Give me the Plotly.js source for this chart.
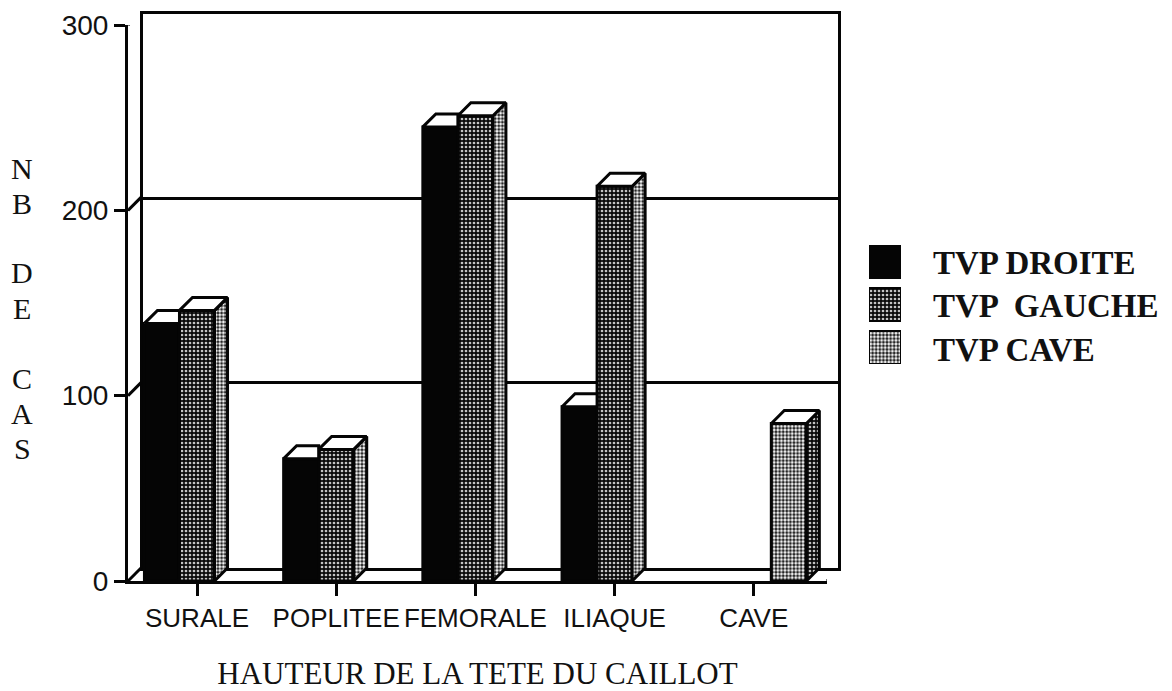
<!DOCTYPE html>
<html><head><meta charset="utf-8">
<script src="https://cdn.plot.ly/plotly-3.0.1.min.js"></script>
<style>html,body{margin:0;padding:0;background:#fff}</style></head>
<body><div id="chart" style="width:1172px;height:691px"></div>
<script>
const categories = ["SURALE","POPLITEE","FEMORALE","ILIAQUE","CAVE"];
const seriesNames = ["TVP DROITE","TVP  GAUCHE","TVP CAVE"];
const droite = [139, 66, 245, 94, null];
const gauche = [146, 71, 251, 213, null];
const cave = [null, null, null, null, 85];
const yTicks = [0,100,200,300];
const yLetters = ["N","B","D","E","C","A","S"];
const yLetterPx = [168,203,272,309,378,413,448];

const W=1172,H=691;
const fx0=128, fy0=581, fy1=25, catPx=139.2, firstTick=197;
const x0=(fx0-firstTick)/catPx, x1=(827-firstTick)/catPx;
const fx1=827;
const bw=0.2517, dx=13/catPx, dy=13/((fy0-fy1)/300);
const black='#050505', lw=3;
const dark={shape:'.',size:4,solidity:0.36,fgcolor:'#c4c4c4',bgcolor:'#0a0a0a'};
const light={shape:'.',size:3.6,solidity:0.55,fgcolor:'#eeeeee',bgcolor:'#111111'};
const side={shape:'.',size:3.6,solidity:0.6,fgcolor:'#f2f2f2',bgcolor:'#111111'};

function bar(name,vals,color,pat){
  return {type:'bar',name,x:categories.map((_,i)=>i),y:vals,xaxis:'x2',yaxis:'y2',showlegend:false,
    hoverinfo:'skip',marker:{color,pattern:pat||{shape:''},line:{color:black,width:lw}}};
}
function tops(vals,s,clip){
  const X=[],Y=[];
  vals.forEach((v,i)=>{ if(v==null) return;
    const l=i+(s-1)*bw-bw/2, r=l+bw;
    const rr=clip?r:r+dx;
    X.push(l,l+dx,rr,r,l,null); Y.push(v,v+dy,v+dy,v,v,null);
  });
  return {type:'scatter',mode:'lines',x:X,y:Y,xaxis:'x2',yaxis:'y2',fill:'toself',fillcolor:'#ffffff',
    line:{color:black,width:lw},showlegend:false,hoverinfo:'skip'};
}
function sides(vals,s,pat){
  const X=[],Y=[];
  vals.forEach((v,i)=>{ if(v==null) return;
    const r=i+(s-1)*bw+bw/2;
    X.push(r,r+dx,r+dx,r,r,null); Y.push(0,dy,v+dy,v,0,null);
  });
  return {type:'scatter',mode:'lines',x:X,y:Y,xaxis:'x2',yaxis:'y2',fill:'toself',fillcolor:'#111',
    fillpattern:pat,line:{color:black,width:lw},showlegend:false,hoverinfo:'skip'};
}
// diagonals joining the front axis to the back wall
const diagX=[],diagY=[];
yTicks.forEach(v=>{diagX.push(x0,x0+dx,null);diagY.push(v,v+dy,null);});
diagX.push(x1,x1+dx,null);diagY.push(0,dy,null);
const diag={type:'scatter',mode:'lines',x:diagX,y:diagY,xaxis:'x2',yaxis:'y2',line:{color:black,width:lw},
  cliponaxis:false,showlegend:false,hoverinfo:'skip'};
// legend swatches: three bars on a small hidden subplot
const legendPos=[2,1,0];
const swatch=(i,color,pat)=>({type:'bar',x:[0],y:[0.767],base:[legendPos[i]],width:[1],offset:[-0.5],xaxis:'x3',yaxis:'y3',
  marker:{color,pattern:pat||{shape:''},line:{color:black,width:2}},showlegend:false,hoverinfo:'skip'});
// empty trace keeps the back wall axes alive
const wall={type:'scatter',mode:'none',x:[0],y:[0],xaxis:'x',yaxis:'y',showlegend:false,hoverinfo:'skip'};

const traces=[wall,diag,
  bar(seriesNames[0],droite,black),bar(seriesNames[1],gauche,'#0a0a0a',dark),bar(seriesNames[2],cave,'#111',light),
  tops(droite,0,true),sides(gauche,1,side),tops(gauche,1,false),sides(cave,2,dark),tops(cave,2,false),
  swatch(0,black),swatch(1,'#0a0a0a',dark),swatch(2,'#111',light)];

const lineBase={showline:true,linecolor:black,linewidth:lw,zeroline:false};
const serif='"Liberation Serif","Times New Roman",serif', sans='"Liberation Sans",Arial,sans-serif';
const annotations=seriesNames.map((t,i)=>({xref:'paper',yref:'paper',x:931/W,y:1-[263,306,350][i]/H,xanchor:'left',yanchor:'middle',
  text:'<b>'+t+'</b>',showarrow:false,font:{family:serif,size:33,color:'#111'}}));
yLetters.forEach((t,i)=>annotations.push({xref:'paper',yref:'paper',x:22/W,y:1-yLetterPx[i]/H,xanchor:'center',yanchor:'middle',
  text:t,showarrow:false,font:{family:serif,size:30,color:'#111'}}));

const layout={width:W,height:H,margin:{l:0,r:0,t:0,b:0},paper_bgcolor:'#fff',plot_bgcolor:'rgba(0,0,0,0)',
  barmode:'group',bargap:0.245,bargroupgap:0,showlegend:false,annotations,
  xaxis:Object.assign({},lineBase,{domain:[142.5/W,837.5/W],range:[x0,x1],mirror:true,showticklabels:false,ticks:'',showgrid:false,anchor:'y'}),
  yaxis:Object.assign({},lineBase,{domain:[(H-567.5)/H,(H-13.5)/H],range:[0,300],mirror:true,showticklabels:false,ticks:'',
    tickvals:yTicks,showgrid:true,gridcolor:black,gridwidth:lw,anchor:'x'}),
  xaxis2:Object.assign({},lineBase,{domain:[fx0/W,fx1/W],range:[x0,x1],anchor:'y2',tickmode:'array',tickvals:categories.map((_,i)=>i),ticktext:categories,
    tickangle:0,ticks:'outside',ticklen:12,tickwidth:lw,tickcolor:black,showgrid:false,tickfont:{family:sans,size:26,color:'#111'},
    title:{text:'HAUTEUR DE LA TETE DU CAILLOT',font:{family:serif,size:31,color:'#111'},standoff:35}}),
  yaxis2:Object.assign({},lineBase,{domain:[(H-fy0)/H,(H-fy1)/H],range:[0,300],anchor:'x2',tickvals:yTicks,
    ticks:'outside',ticklen:11,tickwidth:lw,tickcolor:black,showgrid:false,tickfont:{family:sans,size:28,color:'#111'}}),
  xaxis3:{domain:[869/W,901/W],range:[-0.5,0.5],visible:false,anchor:'y3',fixedrange:true},
  yaxis3:{domain:[(H-364)/H,(H-245)/H],range:[0,2.767],visible:false,anchor:'x3',fixedrange:true}
};
Plotly.newPlot('chart',traces,layout,{displayModeBar:false,staticPlot:true});
</script></body></html>
